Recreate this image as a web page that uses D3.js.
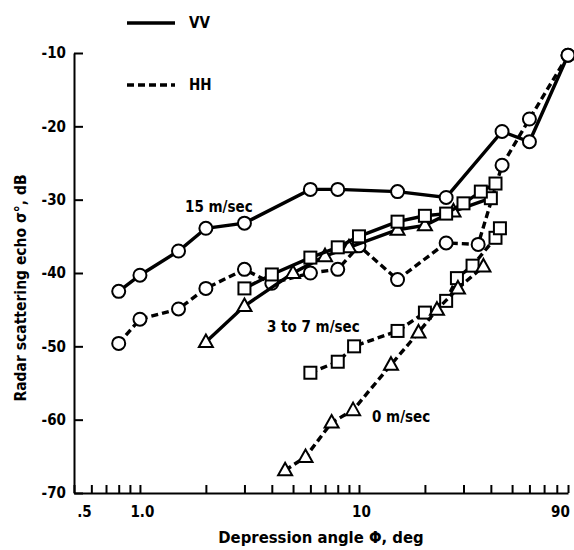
<!DOCTYPE html>
<html>
<head>
<meta charset="utf-8">
<script src="https://cdn.jsdelivr.net/npm/d3@7"></script>
<style>
  body { margin: 0; background: #fff; }
  svg text { font-family: "DejaVu Sans Condensed", "Liberation Sans Narrow", sans-serif; font-weight: bold; fill: #000; }
</style>
</head>
<body>
<div id="chart"></div>
<script>
// depression angle (deg) and echo (dB) for each curve
const vv15Angle = [0.8, 1.0, 1.5, 2, 3, 6, 8, 15, 25, 45, 60, 90];
const vv15Echo = [-42.5, -40.3, -37.0, -33.9, -33.2, -28.6, -28.6, -28.9, -29.7, -20.7, -22.1, -10.3];

const hh15Angle = [0.8, 1.0, 1.5, 2, 3, 4, 6, 8, 10, 15, 25, 35, 45, 60, 90];
const hh15Echo = [-49.6, -46.3, -44.9, -42.1, -39.5, -41.4, -40.0, -39.5, -36.3, -40.9, -35.9, -36.1, -25.3, -19.0, -10.3];

const vv37Angle = [3, 4, 6, 8, 10, 15, 20, 25, 30, 36, 42];
const vv37Echo = [-42.1, -40.2, -37.9, -36.5, -35.0, -33.0, -32.2, -31.9, -30.5, -28.9, -27.8];

const hh37Angle = [6, 8, 9.5, 15, 20, 25, 28, 33, 42, 44];
const hh37Echo = [-53.6, -52.1, -50.0, -47.9, -45.4, -43.8, -40.7, -39.0, -35.2, -33.9];

const vv0Angle = [2, 3, 5, 7, 9, 15, 20, 27, 40];
const vv0Echo = [-49.4, -44.5, -40.0, -37.7, -36.5, -34.1, -33.5, -31.6, -29.8];

const hh0Angle = [4.6, 5.7, 7.5, 9.4, 14, 18.7, 22.7, 28.3, 37];
const hh0Echo = [-66.9, -65.1, -60.4, -58.7, -52.5, -48.1, -45.0, -42.1, -39.1];

const xTicks = [0.5, 0.6, 0.7, 0.8, 0.9, 1, 2, 3, 4, 5, 6, 7, 8, 9, 10, 20, 30, 40, 50, 60, 70, 80, 90];
const xTickLabels = { 0.5: ".5", 1: "1.0", 10: "10", 90: "90" };
const yTicks = [-70, -60, -50, -40, -30, -20, -10];

const series = [
  { angle: hh15Angle, echo: hh15Echo, dashed: true, marker: "circle" },
  { angle: hh37Angle, echo: hh37Echo, dashed: true, marker: "square" },
  { angle: hh0Angle, echo: hh0Echo, dashed: true, marker: "triangle" },
  { angle: vv0Angle, echo: vv0Echo, dashed: false, marker: "triangle", lastMarker: "square" },
  { angle: vv37Angle, echo: vv37Echo, dashed: false, marker: "square" },
  { angle: vv15Angle, echo: vv15Echo, dashed: false, marker: "circle" },
];

const width = 574;
const height = 550;

const svg = d3
  .select("#chart")
  .append("svg")
  .attr("width", width)
  .attr("height", height);

const x = d3.scaleLog().domain([0.5, 90]).range([74, 568]);
const y = d3.scaleLinear().domain([-70, -10]).range([493, 53]);

// axes, ticks point inward
const xAxis = d3
  .axisBottom(x)
  .tickValues(xTicks)
  .tickSizeInner(-8)
  .tickSizeOuter(0)
  .tickPadding(13)
  .tickFormat((d) => xTickLabels[d] || "");

const yAxis = d3
  .axisLeft(y)
  .tickValues(yTicks)
  .tickSizeInner(-9)
  .tickSizeOuter(0)
  .tickPadding(8)
  .tickFormat((d) => d);

const gx = svg.append("g").attr("transform", `translate(0,${y(-70)})`).call(xAxis);
const gy = svg.append("g").attr("transform", `translate(${x(0.5)},0)`).call(yAxis);

[gx, gy].forEach((g) => {
  g.selectAll("path, line").attr("stroke", "#000").attr("stroke-width", 2);
  g.selectAll("text").attr("font-size", 15).attr("font-family", null);
});
gx.selectAll(".tick text")
  .attr("dx", (d) => (d === 0.5 ? 10 : d === 90 ? -8 : 2));

svg
  .append("text")
  .attr("x", 321)
  .attr("y", 543)
  .attr("text-anchor", "middle")
  .attr("font-size", 16.5)
  .text("Depression angle   \u03A6, deg");

svg
  .append("text")
  .attr("transform", `translate(26,${288}) rotate(-90)`)
  .attr("text-anchor", "middle")
  .attr("font-size", 15.5)
  .text("Radar scattering echo   \u03C3\u00B0, dB");

const line = d3
  .line()
  .x((d) => x(d[0]))
  .y((d) => y(d[1]));

function drawMarker(g, type, cx, cy) {
  if (type === "circle") {
    g.append("circle").attr("cx", cx).attr("cy", cy).attr("r", 6.5);
  } else if (type === "square") {
    g.append("rect").attr("x", cx - 6).attr("y", cy - 6).attr("width", 12).attr("height", 12);
  } else {
    g.append("path").attr("d", `M${cx},${cy - 7.5}L${cx + 7},${cy + 5}L${cx - 7},${cy + 5}Z`);
  }
}

series.forEach((s) => {
  const pts = s.angle.map((a, i) => [a, s.echo[i]]);
  svg
    .append("path")
    .datum(pts)
    .attr("d", line)
    .attr("fill", "none")
    .attr("stroke", "#000")
    .attr("stroke-width", 3.4)
    .attr("stroke-dasharray", s.dashed ? "7,4" : null);

  const g = svg.append("g");
  pts.forEach((p, i) => {
    const type = i === pts.length - 1 && s.lastMarker ? s.lastMarker : s.marker;
    drawMarker(g, type, x(p[0]), y(p[1]));
  });
  g.selectAll("*").attr("fill", "#fff").attr("stroke", "#000").attr("stroke-width", 2);
});

// curve labels
const labels = [
  { text: "15 m/sec", x: 185, y: 212 },
  { text: "3 to 7 m/sec", x: 267, y: 332 },
  { text: "0 m/sec", x: 372, y: 422 },
];
labels.forEach((l) => {
  svg.append("text").attr("x", l.x).attr("y", l.y).attr("font-size", 15).text(l.text);
});

// legend
const legend = [
  { text: "VV", dashed: false, y: 23 },
  { text: "HH", dashed: true, y: 85 },
];
legend.forEach((l) => {
  svg
    .append("line")
    .attr("x1", 127)
    .attr("x2", 175)
    .attr("y1", l.y)
    .attr("y2", l.y)
    .attr("stroke", "#000")
    .attr("stroke-width", 3.4)
    .attr("stroke-dasharray", l.dashed ? "7,4" : null);
  svg
    .append("text")
    .attr("x", 189)
    .attr("y", l.y + 5)
    .attr("font-size", 15)
    .text(l.text);
});
</script>
</body>
</html>
